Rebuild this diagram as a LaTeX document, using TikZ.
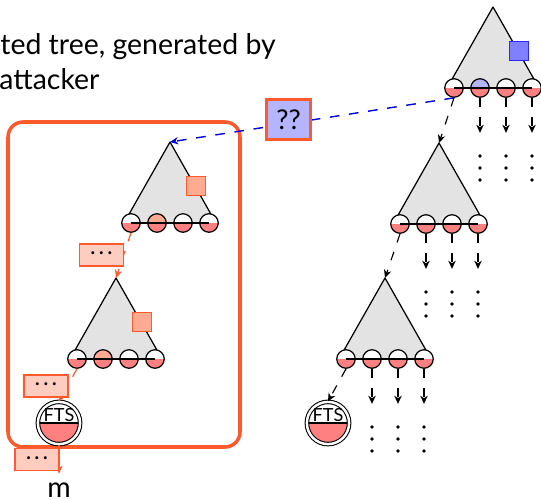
\documentclass[tikz,border=0pt]{standalone}
\usepackage{fontspec}
\setmainfont{Lato}
\usepackage{tikz}
\usepackage{xcolor}
\usetikzlibrary{arrows.meta, calc, positioning}

\definecolor{hot}{RGB}{255,90,45}
\definecolor{hotfill}{RGB}{255,170,145}
\definecolor{hotpale}{RGB}{255,204,192}
\definecolor{leafred}{RGB}{255,128,128}
\definecolor{blueline}{RGB}{0,0,220}
\definecolor{bluefill}{RGB}{128,128,255}
\definecolor{blueedge}{RGB}{40,40,255}
\definecolor{bluepale}{RGB}{180,180,255}

\newcommand{\headfont}{\fontsize{16.2}{19}\selectfont}
\newcommand{\elided}{\raisebox{2pt}{\textbf{.\hspace{2.2pt}.\hspace{2.2pt}.}}}

\tikzset{
    >={Stealth[length=4.6pt, width=4.2pt, inset=1.4pt]},
    treebody/.style={draw=black, fill=black!11, line width=0.7pt, line join=round},
    rowline/.style={draw=black, line width=0.7pt},
    leaf/.style={circle, draw=black, line width=0.7pt, minimum size=0.37cm, inner sep=0pt,
        path picture={
            \fill[#1] (path picture bounding box.north west) rectangle (path picture bounding box.east);
            \fill[leafred] (path picture bounding box.west) rectangle (path picture bounding box.south east);
        }},
    leaf/.default=white,
    hotsq/.style={draw=hot, fill=hotfill, line width=0.6pt, minimum size=0.38cm, inner sep=0pt},
    bluesq/.style={draw=blueedge, fill=bluefill, line width=0.6pt, minimum size=0.38cm, inner sep=0pt},
    fts/.style={circle, draw=black, double=white, double distance=1.4pt, line width=0.6pt,
        minimum size=0.73cm, inner sep=0pt, font=\fontsize{10.3}{12}\selectfont,
        text height=7.4pt, text depth=9.1pt,
        path picture={
            \fill[leafred] (path picture bounding box.west) rectangle (path picture bounding box.south east);
            \draw[line width=0.6pt] (path picture bounding box.west) -- (path picture bounding box.east);
        }},
    dotsbox/.style={draw=hot, fill=hotpale, line width=0.7pt, minimum width=0.88cm, minimum height=0.44cm, inner sep=0pt, font=\fontsize{11}{13}\selectfont},
    askbox/.style={draw=hot, fill=bluepale, line width=1.6pt, minimum width=0.88cm, minimum height=0.8cm, inner sep=0pt, font=\fontsize{15.5}{18}\selectfont},
    blackdash/.style={->, draw=black, line width=0.65pt, dash pattern=on 5.1pt off 5.7pt},
    hotdash/.style={->, draw=hot, line width=0.7pt, dash pattern=on 5.1pt off 5.7pt},
    bluedash/.style={->, draw=blueline, line width=0.8pt, dash pattern=on 5.5pt off 5.5pt},
    hotline/.style={->, draw=hot, line width=0.7pt}
}

\newcommand{\merkletree}[4]{%
    \coordinate (#1) at (#2,#3);
    \filldraw[treebody] (#1) -- ++(-46,81) -- ++(92,0) -- cycle;
    \node[leaf] (#1c1) at ($(#1)+(-39,81)$) {};
    \node[leaf=#4] (#1c2) at ($(#1)+(-13,81)$) {};
    \node[leaf] (#1c3) at ($(#1)+(13,81)$) {};
    \node[leaf] (#1c4) at ($(#1)+(39,81)$) {};
    \draw[rowline] (#1c1.center) -- (#1c4.center);
}

\newcommand{\openleaves}[1]{%
    \draw[blackdash] (#1c2.south) -- ++(0,35);
    \draw[blackdash] (#1c3.south) -- ++(0,35);
    \draw[blackdash] (#1c4.south) -- ++(0,35);
    \fill ($(#1c2)+(0,68)$) circle[radius=1.1pt] ($(#1c2)+(0,80)$) circle[radius=1.1pt] ($(#1c2)+(0,92)$) circle[radius=1.1pt];
    \fill ($(#1c3)+(0,68)$) circle[radius=1.1pt] ($(#1c3)+(0,80)$) circle[radius=1.1pt] ($(#1c3)+(0,92)$) circle[radius=1.1pt];
    \fill ($(#1c4)+(0,68)$) circle[radius=1.1pt] ($(#1c4)+(0,80)$) circle[radius=1.1pt] ($(#1c4)+(0,92)$) circle[radius=1.1pt];
}

\begin{document}
\begin{tikzpicture}[x=0.02cm, y=-0.02cm]
    \useasboundingbox (0,0) rectangle (541,500);

    \node[anchor=base west, inner sep=0pt, font=\headfont] (head1) at (0,55) {ted tree, generated by};
    \node[anchor=base west, inner sep=0pt, font=\headfont] (head2) at (-1,90) {attacker};

    \draw[hot, line width=2pt, rounded corners=0.3cm] (8,122) rectangle (240,447);

    % real tree
    \merkletree{t1}{493}{7}{bluepale}
    \node[bluesq] (t1sq) at ($(t1)+(26,44)$) {};
    \merkletree{t2}{439}{143}{white}
    \merkletree{t3}{385}{278}{white}
    \node[fts] (ftsr) at (328,423) {FTS};
    \openleaves{t1}
    \openleaves{t2}
    \openleaves{t3}
    \draw[blackdash] (t1c1.south) -- (t2);
    \draw[blackdash] (t2c1.south) -- (t3);
    \draw[blackdash] (t3c1.south) -- (ftsr.north);

    % forged tree
    \merkletree{ta}{170}{142}{hotfill}
    \node[hotsq] (tasq) at ($(ta)+(26,44)$) {};
    \merkletree{tb}{116}{278}{hotfill}
    \node[hotsq] (tbsq) at ($(tb)+(26,44)$) {};
    \node[fts] (ftsl) at (59,423) {FTS};
    \node[anchor=base, inner sep=0pt, font=\headfont] (msg) at (59,497.5) {m};
    \draw[hotdash] (tac1.south) -- (tb);
    \draw[hotdash] (tbc1.south) -- (ftsl.north);
    \draw[hotline, shorten >=5pt] (ftsl.south) -- (msg.north);
    \node[dotsbox] (dotsa) at (101.5,255) {\elided};
    \node[dotsbox] (dotsb) at (46,386) {\elided};
    \node[dotsbox] (dotsc) at (37,459.5) {\elided};

    \draw[bluedash] (t1c1.south) -- (ta);
    \node[askbox] (ask) at (288.5,119.5) {??};
\end{tikzpicture}
\end{document}
